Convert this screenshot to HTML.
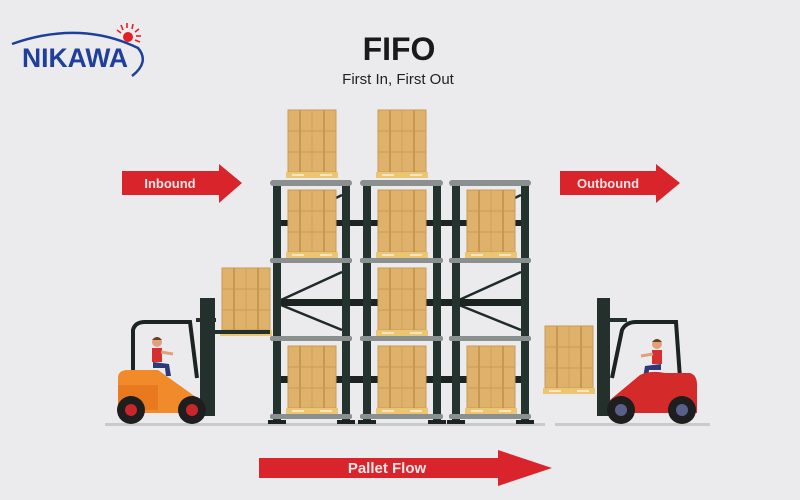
<!DOCTYPE html>
<html><head><meta charset="utf-8"><style>
html,body{margin:0;padding:0;background:#ebebed;}
svg{display:block}
text{font-family:"Liberation Sans",sans-serif}
</style></head><body>
<svg width="800" height="500" viewBox="0 0 800 500" xmlns="http://www.w3.org/2000/svg">
<defs>
<g id="box">
 <rect x="0" y="0" width="48" height="62" fill="#dfb26c"/>
 <rect x="0" y="0" width="48" height="62" fill="none" stroke="#c99a52" stroke-width="1"/>
 <line x1="12" y1="0" x2="12" y2="62" stroke="#c0904a" stroke-width="1.5"/>
 <line x1="24" y1="0" x2="24" y2="62" stroke="#cfa05a" stroke-width="1"/>
 <line x1="36" y1="0" x2="36" y2="62" stroke="#c0904a" stroke-width="1.5"/>
 <line x1="0" y1="21" x2="48" y2="21" stroke="#c99a52" stroke-width="1"/>
 <line x1="0" y1="42" x2="48" y2="42" stroke="#c99a52" stroke-width="1"/>
 <rect x="-2" y="62" width="52" height="6" fill="#ecc572"/>
 <rect x="4" y="64" width="12" height="2" fill="#f5e6c0"/>
 <rect x="32" y="64" width="12" height="2" fill="#f5e6c0"/>
</g>
<g id="driver">
 <circle cx="0" cy="0" r="5" fill="#e0a07a"/>
 <path d="M-5,-2 Q0,-8 5,-2 Z" fill="#6b3d22"/>
 <rect x="-5" y="6" width="10" height="14" fill="#d52f2f"/>
 <path d="M-4,20 L12,22 L14,34 L9,34 L8,26 L-4,26 Z" fill="#2d3a78"/>
 <path d="M4,10 L16,12" stroke="#e0a07a" stroke-width="3"/>
</g>
</defs>

<!-- Logo -->
<path d="M12,44 Q80,20 138,48 Q150,62 132,76" fill="none" stroke="#1e3f9a" stroke-width="2.5"/>
<circle cx="128" cy="37" r="5" fill="#e31e24"/>
<g stroke="#e31e24" stroke-width="1.6">
<line x1="117" y1="30" x2="121" y2="33"/><line x1="121" y1="25" x2="123" y2="30"/>
<line x1="127" y1="23" x2="127" y2="28"/><line x1="133" y1="24" x2="132" y2="29"/>
<line x1="139" y1="29" x2="135" y2="32"/><line x1="141" y1="36" x2="136" y2="36"/>
<line x1="140" y1="42" x2="135" y2="40"/>
</g>
<text x="22" y="67" font-size="27" font-weight="bold" fill="#1e3f9a" textLength="106" lengthAdjust="spacingAndGlyphs">NIKAWA</text>

<!-- Title -->
<text x="399" y="60" font-size="32" font-weight="bold" fill="#1a1a1a" text-anchor="middle">FIFO</text>
<text x="398" y="84" font-size="15" fill="#222" text-anchor="middle">First In, First Out</text>

<!-- Inbound arrow -->
<path d="M122,171 L219,171 L219,164 L242,183 L219,203 L219,195 L122,195 Z" fill="#d9242b"/>
<text x="170" y="188" font-size="13" font-weight="bold" fill="#f3e6e6" text-anchor="middle">Inbound</text>
<!-- Outbound arrow -->
<path d="M560,171 L656,171 L656,164 L680,183 L656,203 L656,195 L560,195 Z" fill="#d9242b"/>
<text x="608" y="188" font-size="13" font-weight="bold" fill="#f3e6e6" text-anchor="middle">Outbound</text>
<!-- Pallet flow -->
<path d="M259,458 L498,458 L498,450 L552,468 L498,486 L498,478 L259,478 Z" fill="#d9242b"/>
<text x="387" y="473" font-size="15" font-weight="bold" fill="#f3e6e6" text-anchor="middle">Pallet Flow</text>

<!-- floor -->
<rect x="105" y="423" width="440" height="3" fill="#c9cacc"/>
<rect x="555" y="423" width="155" height="3" fill="#c9cacc"/>

<!-- Top boxes -->
<use href="#box" x="288" y="110"/>
<use href="#box" x="378" y="110"/>

<!-- Rack braces -->
<g stroke="#1f2b28" stroke-width="2.5">
<line x1="281" y1="300" x2="342" y2="272"/><line x1="281" y1="305" x2="342" y2="330"/>
<line x1="459" y1="300" x2="521" y2="272"/><line x1="459" y1="305" x2="521" y2="330"/>
<line x1="281" y1="225" x2="342" y2="195"/><line x1="459" y1="225" x2="521" y2="195"/>
</g>
<rect x="280" y="299" width="245" height="7" fill="#1c2422"/>
<rect x="280" y="376" width="245" height="7" fill="#1c2422"/>
<rect x="280" y="220" width="245" height="6" fill="#1c2422"/>

<!-- Rack boxes -->
<use href="#box" x="288" y="190"/>
<use href="#box" x="378" y="190"/>
<use href="#box" x="467" y="190"/>
<use href="#box" x="378" y="268"/>
<use href="#box" x="288" y="346"/>
<use href="#box" x="378" y="346"/>
<use href="#box" x="467" y="346"/>

<!-- Uprights -->
<g fill="#25332f">
<rect x="273" y="180" width="8" height="244"/><rect x="342" y="180" width="8" height="244"/>
<rect x="363" y="180" width="8" height="244"/><rect x="433" y="180" width="8" height="244"/>
<rect x="452" y="180" width="8" height="244"/><rect x="521" y="180" width="8" height="244"/>
</g>
<!-- Beams -->
<g fill="#8a8f90">
<rect x="270" y="180" width="82" height="6" rx="3"/><rect x="360" y="180" width="83" height="6" rx="3"/><rect x="449" y="180" width="82" height="6" rx="3"/>
<rect x="270" y="258" width="82" height="5" rx="2"/><rect x="360" y="258" width="83" height="5" rx="2"/><rect x="449" y="258" width="82" height="5" rx="2"/>
<rect x="270" y="336" width="82" height="5" rx="2"/><rect x="360" y="336" width="83" height="5" rx="2"/><rect x="449" y="336" width="82" height="5" rx="2"/>
<rect x="270" y="414" width="82" height="5" rx="2"/><rect x="360" y="414" width="83" height="5" rx="2"/><rect x="449" y="414" width="82" height="5" rx="2"/>
</g>
<g fill="#1c2422">
<rect x="268" y="420" width="18" height="4"/><rect x="337" y="420" width="18" height="4"/>
<rect x="358" y="420" width="18" height="4"/><rect x="428" y="420" width="18" height="4"/>
<rect x="447" y="420" width="18" height="4"/><rect x="516" y="420" width="18" height="4"/>
</g>

<!-- Left forklift -->
<use href="#box" x="222" y="268"/>
<rect x="200" y="298" width="15" height="118" fill="#24302c"/>
<rect x="196" y="318" width="20" height="4" fill="#24302c"/>
<rect x="215" y="330" width="55" height="4" fill="#24302c"/>
<path d="M133,372 L133,330 Q135,322 145,322 L190,322 L197,378" fill="none" stroke="#1c2422" stroke-width="4"/>
<use href="#driver" x="157" y="342"/>
<path d="M118,378 Q118,370 128,370 L158,370 L200,400 L200,413 L118,413 Z" fill="#f08a2a"/>
<rect x="118" y="385" width="40" height="25" fill="#e9791f"/>
<circle cx="131" cy="410" r="14" fill="#1e1e1e"/><circle cx="131" cy="410" r="6" fill="#c9262b"/>
<circle cx="192" cy="410" r="14" fill="#1e1e1e"/><circle cx="192" cy="410" r="6" fill="#c9262b"/>

<!-- Right forklift -->
<use href="#box" x="545" y="326"/>
<rect x="597" y="298" width="13" height="118" fill="#24302c"/>
<rect x="607" y="318" width="20" height="4" fill="#24302c"/>
<path d="M612,378 L622,330 Q626,322 636,322 L676,322 L680,378" fill="none" stroke="#1c2422" stroke-width="4"/>
<use href="#driver" x="657" y="344" transform="translate(1314,0) scale(-1,1)"/>
<path d="M610,413 L610,400 L640,375 Q650,370 665,373 L690,373 Q697,375 697,385 L697,413 Z" fill="#d42a2a"/>
<circle cx="621" cy="410" r="14" fill="#1e1e1e"/><circle cx="621" cy="410" r="6" fill="#5a5f8a"/>
<circle cx="682" cy="410" r="14" fill="#1e1e1e"/><circle cx="682" cy="410" r="6" fill="#5a5f8a"/>
</svg>
</body></html>
